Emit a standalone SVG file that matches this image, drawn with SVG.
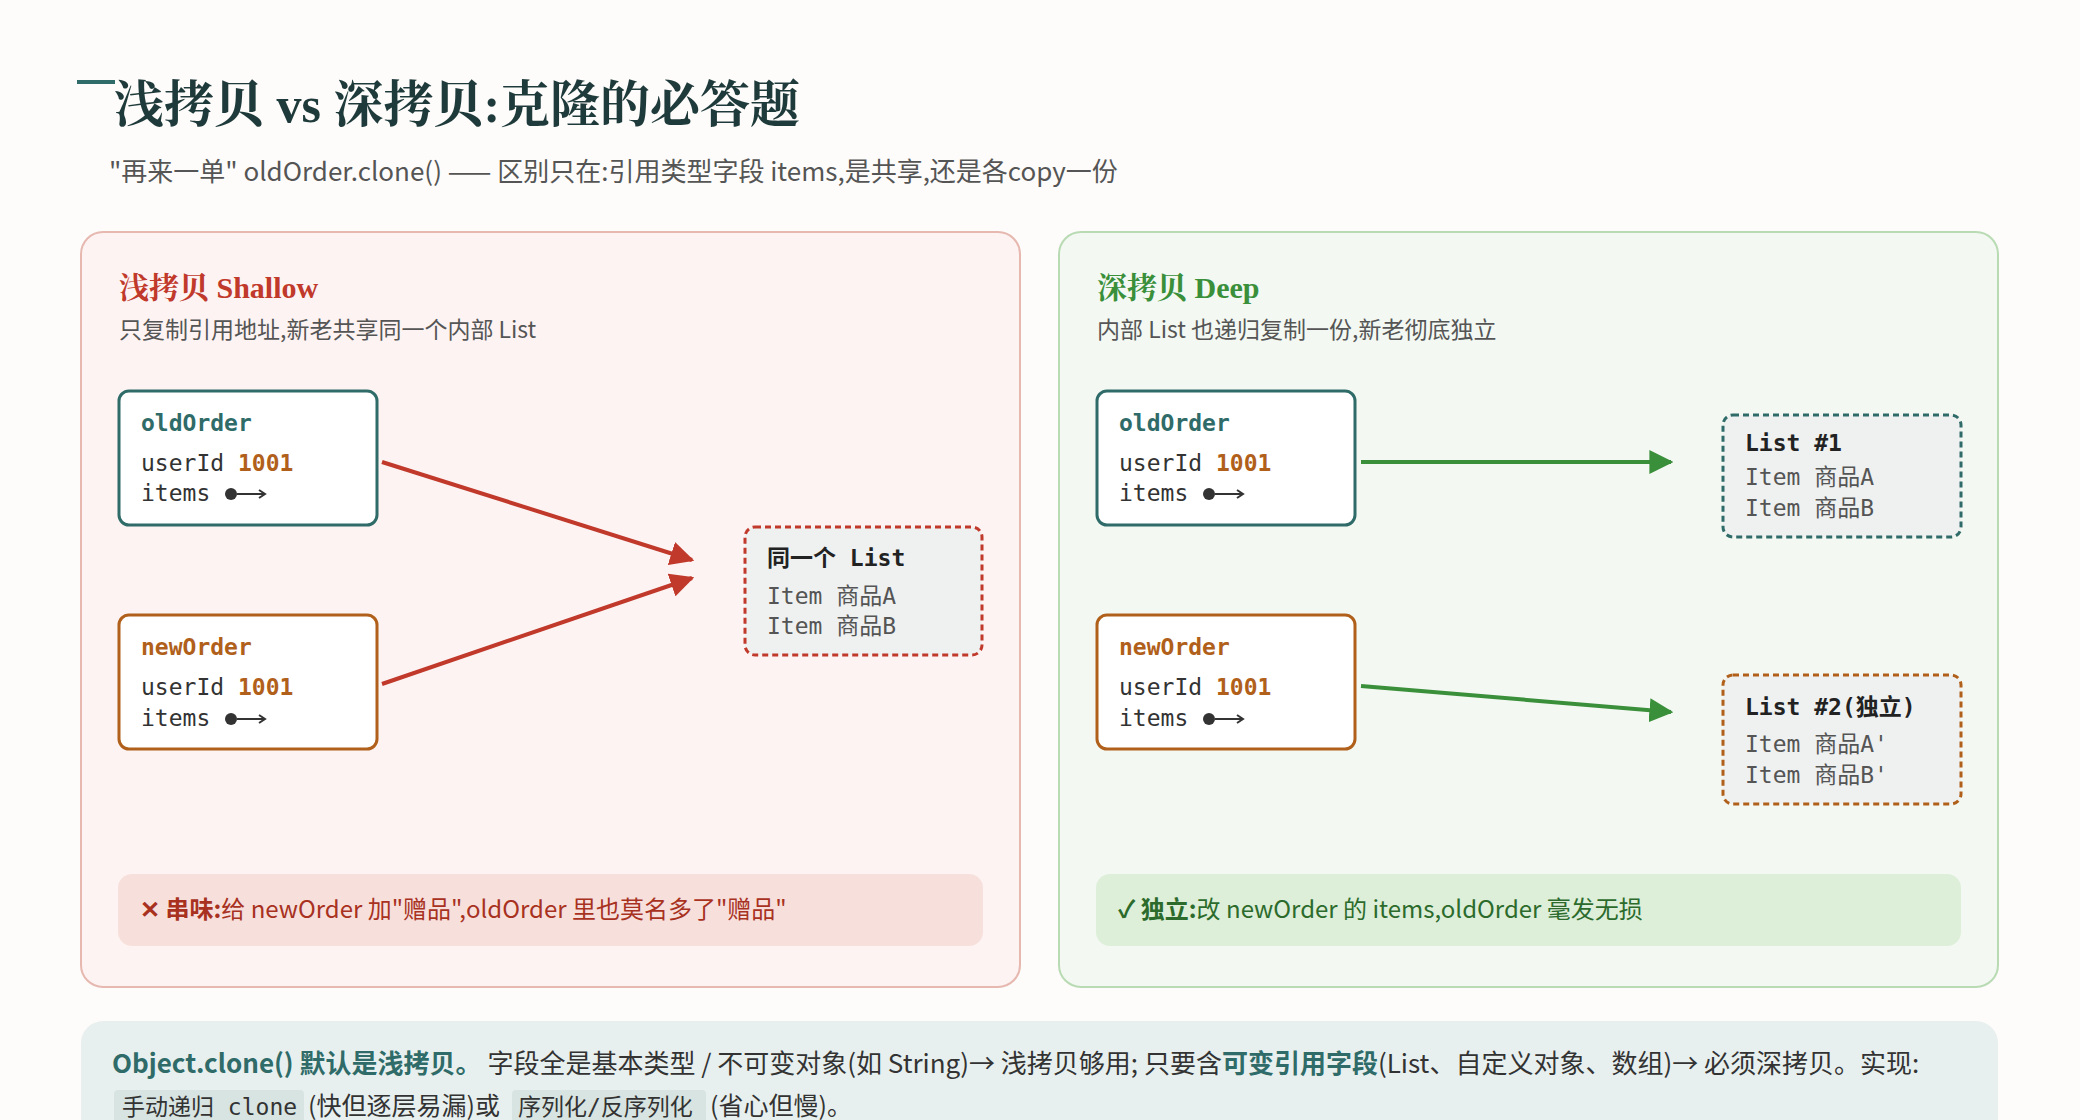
<svg xmlns="http://www.w3.org/2000/svg" width="2080" height="1120" viewBox="0 0 2080 1120">
<defs>
<style>
.sans{font-family:"Noto Sans CJK SC","Noto Sans",sans-serif}
.serif{font-family:"Liberation Serif","Noto Serif CJK SC","Noto Sans CJK SC",serif}
.mono{font-family:"DejaVu Sans Mono","Liberation Mono","Noto Sans CJK SC",monospace;font-size:23px}
.node{fill:#fff;stroke-width:3}
.lbl{fill:#333}
.num{fill:#b0601a;font-weight:bold}
.dim{fill:#555}
</style>
<marker id="ar" viewBox="0 0 10 10" refX="9" refY="5" markerWidth="6" markerHeight="6" orient="auto"><path d="M0,0L10,5L0,10z" fill="#c0392b"/></marker>
<marker id="ag" viewBox="0 0 10 10" refX="9" refY="5" markerWidth="6" markerHeight="6" orient="auto"><path d="M0,0L10,5L0,10z" fill="#3a8f3a"/></marker>
</defs>
<rect width="2080" height="1120" fill="#fdfcfa"/>
<g id="title">
<rect x="77" y="80" width="38" height="4" fill="#2f6b68"/>
<text x="114" y="122" class="serif" font-size="50" font-weight="bold" fill="#1f3a3a">浅拷贝 vs 深拷贝:克隆的必答题</text>
<text x="109" y="181" class="sans" font-size="26" fill="#555">"再来一单" oldOrder.clone() —— 区别只在:引用类型字段 items,是共享,还是各copy一份</text>
</g>
<g id="panel-shallow">
<rect x="81" y="232" width="939" height="755" rx="22" fill="#fdf3f2" stroke="#e6b8b0" stroke-width="2"/>
<text x="119" y="298" class="serif" font-size="30" font-weight="bold" fill="#c0392b">浅拷贝 Shallow</text>
<text x="119" y="338" class="sans" font-size="23" fill="#555">只复制引用地址,新老共享同一个内部 List</text>
</g>
<g id="panel-deep">
<rect x="1059" y="232" width="939" height="755" rx="22" fill="#f3f8f2" stroke="#b9dbb4" stroke-width="2"/>
<text x="1097" y="298" class="serif" font-size="30" font-weight="bold" fill="#3a8f3a">深拷贝 Deep</text>
<text x="1097" y="338" class="sans" font-size="23" fill="#555">内部 List 也递归复制一份,新老彻底独立</text>
</g>
<g id="s-old">
<rect x="119" y="391" width="258" height="134" rx="10" class="node" stroke="#2f6b68"/>
<text x="141" y="431" class="mono" font-weight="bold" fill="#2f6b68">oldOrder</text>
<text x="141" y="471" class="mono lbl">userId <tspan class="num">1001</tspan></text>
<text x="141" y="501" class="mono lbl">items</text>
<circle cx="231" cy="494" r="6" fill="#333"/><path d="M237 494H264M259 490L265 494L259 498" stroke="#333" stroke-width="2" fill="none"/>
</g>
<g id="s-new">
<rect x="119" y="615" width="258" height="134" rx="10" class="node" stroke="#b0601a"/>
<text x="141" y="655" class="mono" font-weight="bold" fill="#b0601a">newOrder</text>
<text x="141" y="695" class="mono lbl">userId <tspan class="num">1001</tspan></text>
<text x="141" y="726" class="mono lbl">items</text>
<circle cx="231" cy="719" r="6" fill="#333"/><path d="M237 719H264M259 715L265 719L259 723" stroke="#333" stroke-width="2" fill="none"/>
</g>
<g id="s-list">
<rect x="745" y="527" width="237" height="128" rx="10" fill="#eff1f1" stroke="#c0392b" stroke-width="3" stroke-dasharray="6 4"/>
<text x="767" y="566" class="mono" font-weight="bold" fill="#222">同一个 List</text>
<text x="767" y="604" class="mono dim">Item 商品A</text>
<text x="767" y="634" class="mono dim">Item 商品B</text>
</g>
<g id="d-old">
<rect x="1097" y="391" width="258" height="134" rx="10" class="node" stroke="#2f6b68"/>
<text x="1119" y="431" class="mono" font-weight="bold" fill="#2f6b68">oldOrder</text>
<text x="1119" y="471" class="mono lbl">userId <tspan class="num">1001</tspan></text>
<text x="1119" y="501" class="mono lbl">items</text>
<circle cx="1209" cy="494" r="6" fill="#333"/><path d="M1215 494H1242M1237 490L1243 494L1237 498" stroke="#333" stroke-width="2" fill="none"/>
</g>
<g id="d-new">
<rect x="1097" y="615" width="258" height="134" rx="10" class="node" stroke="#b0601a"/>
<text x="1119" y="655" class="mono" font-weight="bold" fill="#b0601a">newOrder</text>
<text x="1119" y="695" class="mono lbl">userId <tspan class="num">1001</tspan></text>
<text x="1119" y="726" class="mono lbl">items</text>
<circle cx="1209" cy="719" r="6" fill="#333"/><path d="M1215 719H1242M1237 715L1243 719L1237 723" stroke="#333" stroke-width="2" fill="none"/>
</g>
<g id="d-list1">
<rect x="1723" y="415" width="238" height="122" rx="10" fill="#eff1f1" stroke="#2f6b68" stroke-width="3" stroke-dasharray="6 4"/>
<text x="1745" y="451" class="mono" font-weight="bold" fill="#222">List #1</text>
<text x="1745" y="485" class="mono dim">Item 商品A</text>
<text x="1745" y="516" class="mono dim">Item 商品B</text>
</g>
<g id="d-list2">
<rect x="1723" y="675" width="238" height="129" rx="10" fill="#eff1f1" stroke="#b0601a" stroke-width="3" stroke-dasharray="6 4"/>
<text x="1745" y="715" class="mono" font-weight="bold" fill="#222">List #2(独立)</text>
<text x="1745" y="752" class="mono dim">Item 商品A'</text>
<text x="1745" y="783" class="mono dim">Item 商品B'</text>
</g>
<g id="connectors" stroke-width="4" fill="none">
<path d="M382 462L692 560" stroke="#c0392b" marker-end="url(#ar)"/>
<path d="M382 684L692 578" stroke="#c0392b" marker-end="url(#ar)"/>
<path d="M1361 462L1671 462" stroke="#3a8f3a" marker-end="url(#ag)"/>
<path d="M1361 686L1671 712" stroke="#3a8f3a" marker-end="url(#ag)"/>
</g>
<g id="callout-bad">
<rect x="118" y="874" width="865" height="72" rx="14" fill="#f7e0dc"/>
<text x="140" y="918" class="sans" font-size="24" fill="#a8321f"><tspan font-weight="bold">✕ 串味:</tspan>给 newOrder 加"赠品",oldOrder 里也莫名多了"赠品"</text>
</g>
<g id="callout-good">
<rect x="1096" y="874" width="865" height="72" rx="14" fill="#ddefd9"/>
<text x="1118" y="918" class="sans" font-size="24" fill="#2c6b2c"><tspan font-weight="bold">✓ 独立:</tspan>改 newOrder 的 items,oldOrder 毫发无损</text>
</g>
<g id="note">
<rect x="81" y="1021" width="1917" height="140" rx="22" fill="#e8f0ef"/>
<text x="112" y="1073" class="sans" font-size="26" fill="#333"><tspan fill="#2f6b68" font-weight="bold">Object.clone() 默认是浅拷贝。</tspan> 字段全是基本类型 / 不可变对象(如 String)→ 浅拷贝够用; 只要含<tspan fill="#2f6b68" font-weight="bold">可变引用字段</tspan>(List、自定义对象、数组)→ 必须深拷贝。实现:</text>
<rect x="114" y="1090" width="190" height="34" rx="4" fill="#d8e4e2"/>
<rect x="512" y="1090" width="194" height="34" rx="4" fill="#d8e4e2"/>
<text x="122" y="1115" class="mono" font-size="22" fill="#333">手动递归 clone</text>
<text x="308" y="1115" class="sans" font-size="25" fill="#333">(快但逐层易漏)或</text>
<text x="518" y="1115" class="mono" font-size="22" fill="#333">序列化/反序列化</text>
<text x="710" y="1115" class="sans" font-size="25" fill="#333">(省心但慢)。</text>
</g>
</svg>
